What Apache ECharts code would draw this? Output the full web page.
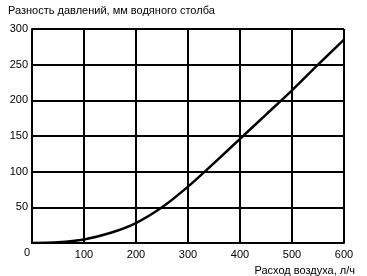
<!DOCTYPE html>
<html><head><meta charset="utf-8">
<script src="https://cdn.jsdelivr.net/npm/echarts@6/dist/echarts.min.js"></script>
<style>html,body{margin:0;padding:0;background:#fff}#c{width:367px;height:276px}</style>
</head><body><div id="c"></div>
<script>
var airFlow = [0, 50, 100, 150, 200, 250, 300, 350, 400, 450, 500, 550, 600];
var pressureDiff = [0, 1, 5, 14, 28, 50, 79, 112, 146, 180, 214, 250, 285];
var xTicks = [0, 100, 200, 300, 400, 500, 600];
var yTicks = [0, 50, 100, 150, 200, 250, 300];
var yTitle = 'Разность давлений, мм водяного столба';
var xTitle = 'Расход воздуха, л/ч';

var font = 'Liberation Sans, Arial, sans-serif';
var chart = echarts.init(document.getElementById('c'), null, {renderer: 'canvas'});
chart.setOption({
  animation: false,
  grid: {left: 32, right: 23, top: 29, bottom: 33, containLabel: false},
  xAxis: {
    type: 'value', min: 0, max: 600, interval: 100,
    axisLine: {show: true, lineStyle: {color: '#000', width: 2}},
    axisTick: {show: false},
    splitLine: {show: true, lineStyle: {color: '#000', width: 2}},
    axisLabel: {color: '#000', fontFamily: font, fontSize: 11, margin: 6,
      formatter: function(v){ return v === 0 ? '' : String(v); }}
  },
  yAxis: {
    type: 'value', min: 0, max: 300, interval: 50,
    axisLine: {show: true, lineStyle: {color: '#000', width: 2}},
    axisTick: {show: false},
    splitLine: {show: true, lineStyle: {color: '#000', width: 2}},
    axisLabel: {color: '#000', fontFamily: font, fontSize: 11, margin: 4,
      formatter: function(v){ return v === 0 ? '' : String(v); }}
  },
  graphic: [
    {type: 'text', left: 8, top: 5, style: {text: yTitle, fill: '#000', font: '11px ' + font}},
    {type: 'text', right: 12, top: 265, style: {text: xTitle, fill: '#000', font: '11px ' + font}},
    {type: 'text', left: 24, top: 247, style: {text: '0', fill: '#000', font: '11px ' + font}}
  ],
  series: [{
    type: 'line',
    data: airFlow.map(function(x, i){ return [x, pressureDiff[i]]; }),
    smooth: 0.3,
    showSymbol: false,
    lineStyle: {color: '#000', width: 2.5}
  }]
});
</script></body></html>
